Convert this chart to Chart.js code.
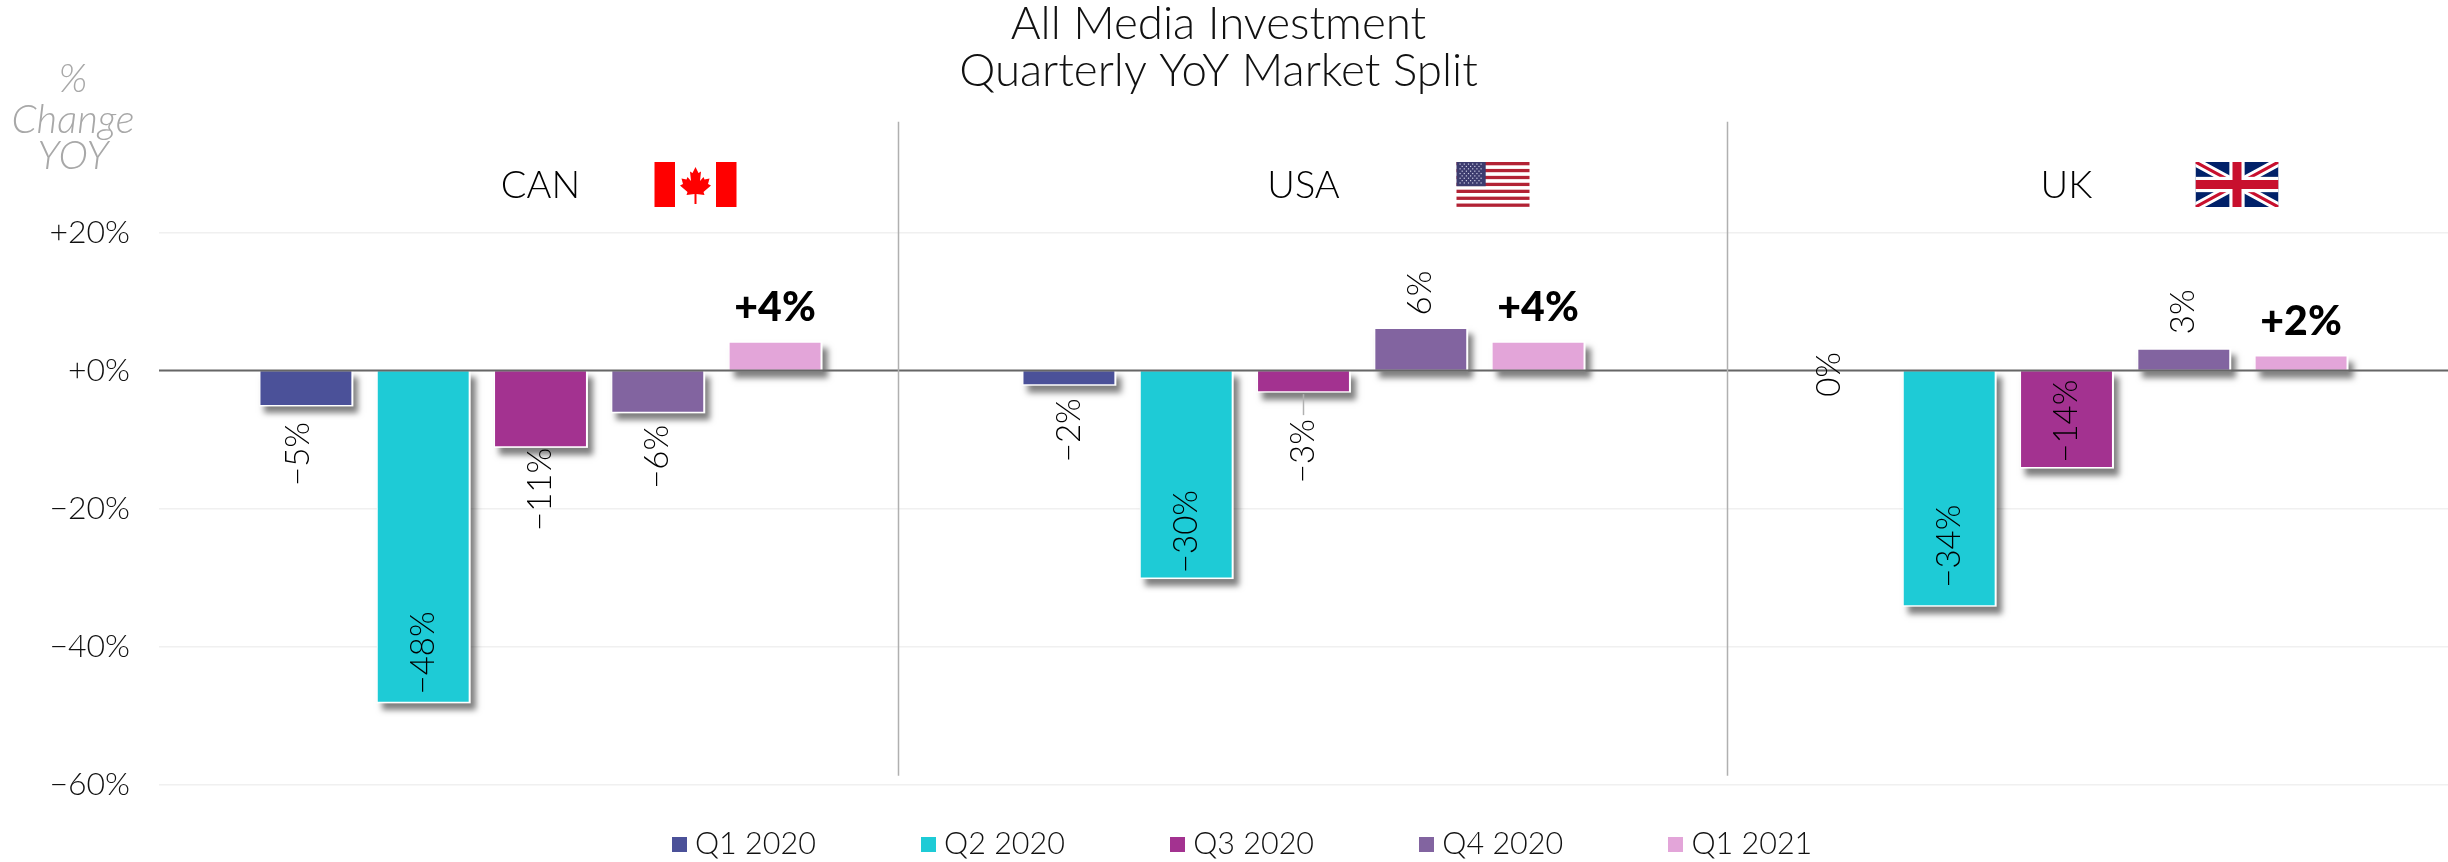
<!DOCTYPE html>
<html><head><meta charset="utf-8">
<style>html,body{margin:0;padding:0;background:#fff}canvas{display:block}</style>
<script src="https://cdn.jsdelivr.net/npm/chart.js@4"></script></head>
<body><canvas id="c" width="2448" height="862"></canvas>
<script>
const markets = ['CAN','USA','UK'];
const seriesNames = ['Q1 2020','Q2 2020','Q3 2020','Q4 2020','Q1 2021'];
const q1_2020 = [-5,-2,0];
const q2_2020 = [-48,-30,-34];
const q3_2020 = [-11,-3,-14];
const q4_2020 = [-6,6,3];
const q1_2021 = [4,4,2];
const colors = ['#4B5199','#1ECBD6','#A33290','#8264A0','#E3A5D9'];
const titleLines = ['All Media Investment','Quarterly YoY Market Split'];
const axisNote = ['%','Change','YOY'];
const FONT = 'Lato';
// label distance from bar end (outward positive), and sideways nudge
const labelGaps = [[49,46,4],[-49,-46,-59],[43,60,-46],[45,36,38],[35,35,35]];
const labelNudge = [[-8,0,-3],[0,0,0],[0,0,0],[0,0,0],[0,0,0]];
const seriesValues = [q1_2020,q2_2020,q3_2020,q4_2020,q1_2021];
const fmtAxis = v => (v<0?'\u2212'+Math.abs(v):'+'+v)+'%';
const fmtLabel = v => (v<0?'\u2212'+Math.abs(v):''+v)+'%';

function swatch(color){
  const c=document.createElement('canvas');c.width=15;c.height=15;
  const g=c.getContext('2d');g.fillStyle=color;g.fillRect(0,0,15,15);
  return c;
}
function canada(ctx,x,y,w,h){
  ctx.fillStyle='#fff';ctx.fillRect(x,y,w,h);
  ctx.fillStyle='#f00';ctx.fillRect(x,y,w*0.25,h);ctx.fillRect(x+w*0.75,y,w*0.25,h);
  const half=[[0,0],[3,6],[5.5,4.5],[4.5,14],[8,10],[9,12.5],[14,11.5],[12.5,17],[15.5,18.5],[8,25],[9,28],[1,27],[1,37]];
  const cx=x+w/2,t=y+5;
  ctx.beginPath();
  half.forEach((p,i)=>{i?ctx.lineTo(cx+p[0],t+p[1]):ctx.moveTo(cx+p[0],t+p[1]);});
  half.slice().reverse().forEach(p=>ctx.lineTo(cx-p[0],t+p[1]));
  ctx.closePath();ctx.fill();
}
function usa(ctx,x,y,w,h){
  const s=h/13;
  ctx.fillStyle='#fff';ctx.fillRect(x,y,w,h);
  ctx.fillStyle='#B22234';
  for(let i=0;i<13;i+=2)ctx.fillRect(x,y+i*s,w,s*0.95);
  const cw=w*0.4,ch=s*7;
  ctx.fillStyle='#3C3B6E';ctx.fillRect(x,y,cw,ch);
  ctx.fillStyle='#cfd0e6';
  for(let r=0;r<9;r++){const n=r%2?5:6;for(let c=0;c<n;c++){
    ctx.fillRect(x+2+(c+(r%2?0.5:0))*(cw-4)/6+1,y+1.5+r*(ch-3)/9,1.2,1.2);}}
}
function uk(ctx,x,y,w,h){
  ctx.save();ctx.beginPath();ctx.rect(x,y,w,h);ctx.clip();
  ctx.fillStyle='#012169';ctx.fillRect(x,y,w,h);
  ctx.strokeStyle='#fff';ctx.lineWidth=h*0.2;
  ctx.beginPath();ctx.moveTo(x,y);ctx.lineTo(x+w,y+h);ctx.moveTo(x+w,y);ctx.lineTo(x,y+h);ctx.stroke();
  ctx.strokeStyle='#C8102E';ctx.lineWidth=h*0.07;
  ctx.beginPath();ctx.moveTo(x,y);ctx.lineTo(x+w,y+h);ctx.moveTo(x+w,y);ctx.lineTo(x,y+h);ctx.stroke();
  ctx.fillStyle='#fff';ctx.fillRect(x+w/2-h*0.17,y,h*0.34,h);ctx.fillRect(x,y+h/2-h*0.17,w,h*0.34);
  ctx.fillStyle='#C8102E';ctx.fillRect(x+w/2-h*0.1,y,h*0.2,h);ctx.fillRect(x,y+h/2-h*0.1,w,h*0.2);
  ctx.restore();
}
const flags=[{f:canada,dx:114,w:82},{f:usa,dx:153,w:73},{f:uk,dx:129,w:83}];

const decor={
  id:'decor',
  beforeLayout(chart){
    const lg=chart.legend;
    if(lg&&!lg._patched){const fit=lg.fit;lg.fit=function(){fit.call(this);this.height=0;};lg._patched=true;}
  },
  afterLayout(chart){
    const lg=chart.legend;
    lg.top=717;lg.bottom=862;lg.left=21.5;lg.right=2469.5;
    const tb=chart.titleBlock;tb.left=-5.5;tb.right=chart.width-5.5;
  },
  beforeDatasetsDraw(chart){
    const ctx=chart.ctx;
    ctx.save();
    ctx.shadowColor='rgba(0,0,0,0.5)';ctx.shadowOffsetX=5;ctx.shadowOffsetY=7;ctx.shadowBlur=6;
    ctx.fillStyle='#fff';
    chart.data.datasets.forEach((d,i)=>{
      chart.getDatasetMeta(i).data.forEach(el=>{
        const p=el.getProps(['x','y','base','width'],true);
        if(p.y===p.base)return;
        const t=Math.min(p.y,p.base),b=Math.max(p.y,p.base);
        ctx.fillRect(p.x-p.width/2-1,t-1.5,p.width+3,b-t+3);
      });
    });
    ctx.restore();
  },
  afterDatasetsDraw(chart){
    const ctx=chart.ctx,{x,y}=chart.scales,a=chart.chartArea;
    ctx.save();
    // zero line
    const y0=y.getPixelForValue(0);
    ctx.strokeStyle='#666';ctx.lineWidth=2;
    ctx.beginPath();ctx.moveTo(a.left,y0);ctx.lineTo(a.right,y0);ctx.stroke();
    // panel separators
    ctx.strokeStyle='#b0b0b0';ctx.lineWidth=1.5;
    [0.468,1.555].forEach(v=>{const px=Math.round(x.getPixelForValue(v))+.5;
      ctx.beginPath();ctx.moveTo(px,y.getPixelForValue(36));ctx.lineTo(px,y.getPixelForValue(-58.7));ctx.stroke();});
    // leader line on USA Q3 2020
    const lead=chart.getDatasetMeta(2).data[1];
    ctx.strokeStyle='#b0b0b0';ctx.lineWidth=1.5;
    ctx.beginPath();ctx.moveTo(lead.x,lead.y+3);ctx.lineTo(lead.x,lead.y+24);ctx.stroke();
    // value labels
    ctx.textAlign='center';ctx.textBaseline='middle';ctx.fillStyle='#000';
    seriesValues.forEach((vals,s)=>{
      const meta=chart.getDatasetMeta(s);
      vals.forEach((v,i)=>{
        const el=meta.data[i];
        const ly=el.y+(v>0?-1:1)*labelGaps[s][i];
        ctx.save();ctx.translate(el.x+labelNudge[s][i],ly);
        if(s===4){ctx.font='900 41px '+FONT;ctx.fillText('+'+v+'%',0,0);}
        else{ctx.rotate(-Math.PI/2);ctx.font='300 33px '+FONT;ctx.fillText(fmtLabel(v),0,0);}
        ctx.restore();
      });
    });
    // market names
    ctx.font='300 38px '+FONT;
    markets.forEach((m,i)=>ctx.fillText(m,x.getPixelForValue(i),186));
    // flags
    flags.forEach((fl,i)=>fl.f(ctx,x.getPixelForValue(i)+fl.dx,162,fl.w,45));
    // axis note
    ctx.font='italic 300 40px '+FONT;ctx.fillStyle='#a8a8a8';
    const ny=[79,120,156];
    axisNote.forEach((t,i)=>ctx.fillText(t,73,ny[i]));
    ctx.restore();
  }
};

new Chart(document.getElementById('c'),{
  type:'bar',
  data:{labels:markets,datasets:seriesValues.map((v,i)=>({
    label:seriesNames[i],data:v,backgroundColor:colors[i],borderWidth:0,
    categoryPercentage:0.7686,barPercentage:0.775}))},
  plugins:[decor],
  options:{
    responsive:false,animation:false,events:[],
    layout:{padding:{top:0,right:0,bottom:77.3,left:0}},
    plugins:{
      title:{display:true,text:titleLines,color:'#111',padding:{top:1,bottom:137},
        font:{family:FONT,size:45.7,weight:'300',lineHeight:1.032}},
      legend:{position:'bottom',labels:{
        usePointStyle:true,boxWidth:1,boxHeight:15,padding:112,color:'#111',
        font:{family:FONT,size:30.5,weight:'300'},
        generateLabels(chart){
          return Chart.defaults.plugins.legend.labels.generateLabels(chart).map((it,i)=>{
            it.pointStyle=swatch(colors[i]);return it;});
        }}},
      tooltip:{enabled:false}
    },
    scales:{
      x:{display:false,grid:{display:false}},
      y:{min:-60,max:20,
        afterFit(s){s.width=159;},
        border:{display:false},
        grid:{color:'#f0f0f0',lineWidth:1.5,drawTicks:false},
        ticks:{stepSize:20,padding:29,color:'#111',font:{family:FONT,size:32,weight:'300'},callback:fmtAxis}}
    }
  }
});
</script></body></html>
